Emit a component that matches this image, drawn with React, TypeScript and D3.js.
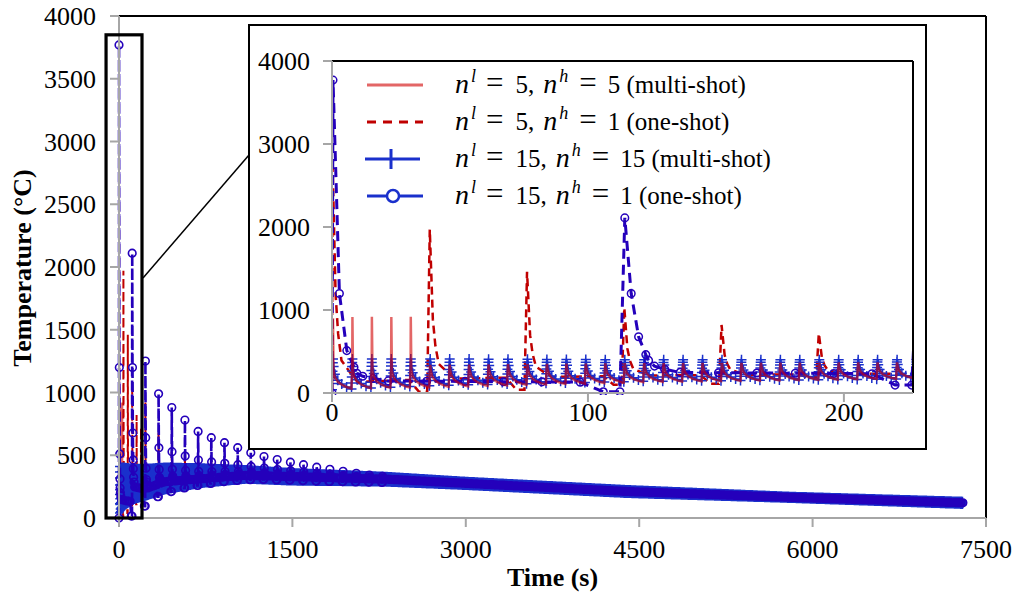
import React from "react";
import * as d3 from "d3";

// ---------------- data ----------------
const SHOT_PERIOD = 7.6; // s between heat shots
const END_TIME = 7300; // s, last sample

const mainXTicks = [0, 1500, 3000, 4500, 6000, 7500];
const mainYTicks = [0, 500, 1000, 1500, 2000, 2500, 3000, 3500, 4000];
const insetXTicks = [0, 100, 200];
const insetYTicks = [0, 1000, 2000, 3000, 4000];

// shape of one multi-shot cycle (phase within period -> fraction of swing)
const sawPhase = [0, 0.008, 0.016, 0.024, 0.032, 0.04, 0.05, 0.08, 0.15, 0.3, 0.5, 0.75];
const sawShape = [0, 0.2, 0.4, 0.6, 0.75, 0.88, 1, 0.75, 0.5, 0.3, 0.17, 0.07];
const SAW_PEAK_INDEX = 6;

// n^l = 5, n^h = 5 (multi-shot)
const aEnvTime = [0, 40, 120, 230, 400, 700, 1100, 1500, 2300, 3000, 4400, 5800, 7300];
const aLow = [50, 70, 130, 175, 225, 275, 305, 295, 285, 258, 195, 155, 108];
const aHigh = [330, 340, 360, 370, 380, 375, 365, 350, 330, 292, 226, 174, 134];
const aSpikePeaks = [900, 915, 920, 915, 920];

// n^l = 15, n^h = 15 (multi-shot)
const cEnvTime = [0, 40, 120, 230, 400, 700, 1100, 1500, 2300, 3000, 4400, 5800, 7300];
const cLow = [40, 90, 140, 170, 220, 270, 305, 290, 282, 255, 191, 152, 104];
const cHigh = [410, 410, 400, 400, 410, 405, 390, 366, 337, 297, 231, 178, 138];

// n^l = 5, n^h = 1 (one-shot)
const bSpikeTimes = [0, 38, 76, 114, 152, 190, 228, 342, 456, 570, 684, 798, 912, 1026, 1140];
const bSpikePeaks = [2800, 1970, 1460, 1030, 820, 720, 920, 680, 545, 520, 490, 460, 440, 420, 400];
const bDips = [0, 15, 40, 100, 110, 190, 200, 240, 260, 280, 290, 300, 305, 310, 312];
const bLevelTime = [0, 40, 120, 230, 700, 1100, 1500, 2300, 3000, 4400, 5800, 7300];
const bLevel = [120, 170, 210, 235, 300, 330, 330, 310, 276, 211, 165, 121];
const bDecayOffset = [0.2, 1.4, 2.4, 3.7, 6.7, 10];
const bDecayFrac = [1, 0.4, 0.22, 0.1, 0.05, 0];

// n^l = 15, n^h = 1 (one-shot)
const dSpikeTimes = [0, 114, 228, 342, 456, 570, 684, 798, 912, 1026, 1140, 1254, 1368, 1482, 1596, 1710, 1824, 1938, 2052, 2166, 2280];
const dSpikePeaks = [3770, 2110, 1250, 990, 880, 780, 690, 640, 600, 560, 520, 490, 465, 445, 425, 405, 388, 372, 356, 343, 332];
const dDips = [0, 15, 95, 170, 210, 240, 260, 275, 290, 300, 305, 308, 305, 302, 298, 295, 292, 290, 288, 286, 284];
const dLevelTime = [0, 100, 125, 220, 400, 1100, 1500, 2300, 3000, 4400, 5800, 7300];
const dLevel = [150, 130, 250, 230, 290, 340, 330, 310, 276, 211, 165, 121];
const dDecayOffset = [0.4, 2.9, 5.8, 8.6, 9.7, 12, 16, 22];
const dDecayFracFirst = [1, 0.29, 0.1, 0.045, 0.025, 0.015, 0.008, 0];
const dDecayFracSecond = [1, 0.52, 0.24, 0.12, 0.08, 0.04, 0.02, 0];
const dDecayFrac = [1, 0.4, 0.16, 0.07, 0.05, 0.03, 0.015, 0];

const legendNl = [5, 5, 15, 15];
const legendNh = [5, 1, 15, 1];
const legendMode = ["multi-shot", "one-shot", "multi-shot", "one-shot"];

// ---------------- series construction ----------------
type Pt = [number, number];
const interp = (ts: number[], vs: number[]) =>
  d3.scaleLinear<number>().domain(ts).range(vs).clamp(true);

function multiShot(envT: number[], low: number[], high: number[], spikes: number[]): Pt[] {
  const lo = interp(envT, low);
  const hi = interp(envT, high);
  const pts: Pt[] = [];
  for (let k = 0; k * SHOT_PERIOD <= END_TIME; k++) {
    for (let j = 0; j < sawPhase.length; j++) {
      const t = k * SHOT_PERIOD + sawPhase[j] * SHOT_PERIOD;
      if (t > END_TIME) break;
      let v = lo(t) + (hi(t) - lo(t)) * sawShape[j];
      if (j === SAW_PEAK_INDEX && k < spikes.length) v = spikes[k];
      pts.push([t, v]);
    }
  }
  return pts;
}

function oneShot(
  times: number[], peaks: number[], dips: number[], lvT: number[], lvV: number[],
  decOff: number[], fracFor: (i: number) => number[], dipLead: number, dipTail: number, step: number
): Pt[] {
  const lv = interp(lvT, lvV);
  const pts: Pt[] = [];
  for (let i = 0; i < times.length; i++) {
    const T = times[i];
    if (i === 0) pts.push([T, dips[0]]);
    else {
      pts.push([T - dipLead, dips[i]]);
      pts.push([T - dipTail, dips[i]]);
    }
    const fr = fracFor(i);
    for (let j = 0; j < decOff.length; j++) {
      const t = T + decOff[j];
      pts.push([t, lv(t) + (peaks[i] - lv(t)) * fr[j]]);
    }
    const stop = i + 1 < times.length ? times[i + 1] - dipLead : END_TIME;
    for (let t = T + decOff[decOff.length - 1] + step; t < stop - step * 0.4; t += step) {
      pts.push([t, lv(t)]);
    }
  }
  pts.push([END_TIME, lv(END_TIME)]);
  return pts;
}

const seriesA = multiShot(aEnvTime, aLow, aHigh, aSpikePeaks);
const seriesC = multiShot(cEnvTime, cLow, cHigh, []);
const seriesB = oneShot(bSpikeTimes, bSpikePeaks, bDips, bLevelTime, bLevel, bDecayOffset, () => bDecayFrac, 4, 0.8, 4);
const seriesD = oneShot(
  dSpikeTimes, dSpikePeaks, dDips, dLevelTime, dLevel, dDecayOffset,
  (i) => (i === 0 ? dDecayFracFirst : i === 1 ? dDecayFracSecond : dDecayFrac), 8, 1.5, 15
);

// ---------------- styling ----------------
const COL_A = "#d00000";
const OP_A = 0.6;
const COL_B = "#c00000";
const COL_C = "#1a30cc";
const COL_D = "#2400bb";
const FONT = "'Liberation Serif', 'Times New Roman', serif";

function plusPath(pts: Pt[], x: (v: number) => number, y: (v: number) => number, h: number) {
  let s = "";
  for (const [t, v] of pts) {
    const px = x(t), py = y(v);
    s += `M${(px - h).toFixed(1)},${py.toFixed(1)}h${2 * h}M${px.toFixed(1)},${(py - h).toFixed(1)}v${2 * h}`;
  }
  return s;
}
function circlePath(pts: Pt[], x: (v: number) => number, y: (v: number) => number, r: number) {
  let s = "";
  for (const [t, v] of pts) {
    const px = x(t), py = y(v);
    s += `M${(px + r).toFixed(1)},${py.toFixed(1)}a${r},${r} 0 1,0 ${-2 * r},0a${r},${r} 0 1,0 ${2 * r},0`;
  }
  return s;
}

export default function App() {
  const W = 1019, H = 597;
  const M = { left: 119, right: 986, top: 16, bottom: 518 };
  const I = { left: 332, right: 913, top: 61, bottom: 393 };
  const BOX = { x: 249, y: 25, w: 677, h: 424 };

  const xM = d3.scaleLinear().domain([0, 7500]).range([M.left, M.right]);
  const yM = d3.scaleLinear().domain([0, 4000]).range([M.bottom, M.top]);
  const xI = d3.scaleLinear().domain([0, 227]).range([I.left, I.right]);
  const yI = d3.scaleLinear().domain([0, 4000]).range([I.bottom, I.top]);

  const lineM = d3.line<Pt>().x((d) => xM(d[0])).y((d) => yM(d[1]));
  const lineI = d3.line<Pt>().x((d) => xI(d[0])).y((d) => yI(d[1]));
  const inI = (p: Pt[]) => p.filter((d) => d[0] <= 240);

  const axisGray = "#a6a6a6";

  // zoom rectangle in main data coordinates
  const zoomT0 = -112, zoomT1 = 199, zoomV1 = 3850;

  const legendY = [85, 122, 159, 196];

  return (
    <svg width={W} height={H} style={{ position: "absolute", left: 0, top: 0, background: "#fff" }} fontFamily={FONT}>
      <defs>
        <clipPath id="insetClip">
          <rect x={I.left} y={I.top - 2} width={I.right - I.left} height={I.bottom - I.top + 4} />
        </clipPath>
      </defs>
      <rect x={0} y={0} width={W} height={H} fill="#fff" />

      {/* ---------- main chart ---------- */}
      <path d={lineM(seriesA) || ""} fill="none" stroke={COL_A} strokeOpacity={OP_A} strokeWidth={1.5} />
      <path d={lineM(seriesB) || ""} fill="none" stroke={COL_B} strokeWidth={2} strokeDasharray="8,5" />
      <path d={lineM(seriesC) || ""} fill="none" stroke={COL_C} strokeWidth={1.5} />
      <path d={plusPath(seriesC, xM, yM, 4)} fill="none" stroke={COL_C} strokeWidth={1.5} />
      <path d={lineM(seriesD) || ""} fill="none" stroke={COL_D} strokeWidth={2.6} strokeDasharray="10,4" />
      <path d={circlePath(seriesD, xM, yM, 3.8)} fill="none" stroke={COL_D} strokeWidth={1.6} />

      {/* main frame */}
      <line x1={M.left} x2={M.right} y1={M.top} y2={M.top} stroke="#000" strokeWidth={2} />
      <line x1={M.right} x2={M.right} y1={M.top} y2={M.bottom} stroke="#000" strokeWidth={2} />
      <line x1={M.left} x2={M.left} y1={M.top} y2={M.bottom} stroke={axisGray} strokeWidth={2} />
      <line x1={M.left} x2={M.right} y1={M.bottom} y2={M.bottom} stroke={axisGray} strokeWidth={2} />
      {mainYTicks.map((v) => (
        <g key={"my" + v}>
          <line x1={M.left - 9} x2={M.left} y1={yM(v)} y2={yM(v)} stroke={axisGray} strokeWidth={2} />
          <text x={96} y={yM(v) + 9} fontSize={26} textAnchor="end">{v}</text>
        </g>
      ))}
      {mainXTicks.map((v) => (
        <g key={"mx" + v}>
          <line x1={xM(v)} x2={xM(v)} y1={M.bottom} y2={M.bottom + 9} stroke={axisGray} strokeWidth={2} />
          <text x={xM(v)} y={558} fontSize={26} textAnchor="middle">{v}</text>
        </g>
      ))}
      <text x={(M.left + M.right) / 2} y={586} fontSize={26} fontWeight="bold" textAnchor="middle">Time (s)</text>
      <text transform={`translate(31,${268}) rotate(-90)`} fontSize={26} fontWeight="bold" textAnchor="middle">Temperature (°C)</text>

      {/* zoom box & connector */}
      <rect x={xM(zoomT0)} y={yM(zoomV1)} width={xM(zoomT1) - xM(zoomT0)} height={yM(0) - yM(zoomV1)} fill="none" stroke="#000" strokeWidth={3.2} />
      <line x1={xM(zoomT1) + 1} y1={278} x2={BOX.x} y2={155} stroke="#000" strokeWidth={1.5} />

      {/* ---------- inset ---------- */}
      <rect x={BOX.x} y={BOX.y} width={BOX.w} height={BOX.h} fill="#fff" stroke="#000" strokeWidth={2} />
      <g clipPath="url(#insetClip)">
        <path d={lineI(inI(seriesB)) || ""} fill="none" stroke={COL_B} strokeWidth={2.5} strokeDasharray="8,5" />
        <path d={lineI(inI(seriesC)) || ""} fill="none" stroke={COL_C} strokeWidth={1.8} />
        <path d={plusPath(inI(seriesC), xI, yI, 5)} fill="none" stroke={COL_C} strokeWidth={1.5} />
        <path d={lineI(inI(seriesD)) || ""} fill="none" stroke={COL_D} strokeWidth={3} strokeDasharray="10,6" />
        <path d={circlePath(inI(seriesD), xI, yI, 3.8)} fill="none" stroke={COL_D} strokeWidth={1.5} />
        <path d={lineI(inI(seriesA)) || ""} fill="none" stroke={COL_A} strokeOpacity={OP_A} strokeWidth={2.5} />
      </g>
      <line x1={I.left} x2={I.right} y1={I.top} y2={I.top} stroke="#000" strokeWidth={2} />
      <line x1={I.right} x2={I.right} y1={I.top} y2={I.bottom} stroke="#000" strokeWidth={2} />
      <line x1={I.left} x2={I.left} y1={I.top} y2={I.bottom} stroke={axisGray} strokeWidth={2} />
      <line x1={I.left} x2={I.right} y1={I.bottom} y2={I.bottom} stroke={axisGray} strokeWidth={2} />
      {insetYTicks.map((v) => (
        <g key={"iy" + v}>
          <line x1={I.left - 9} x2={I.left} y1={yI(v)} y2={yI(v)} stroke={axisGray} strokeWidth={2} />
          <text x={310} y={yI(v) + 9} fontSize={26} textAnchor="end">{v}</text>
        </g>
      ))}
      {insetXTicks.map((v) => (
        <g key={"ix" + v}>
          <line x1={xI(v)} x2={xI(v)} y1={I.bottom} y2={I.bottom + 9} stroke={axisGray} strokeWidth={2} />
          <text x={xI(v)} y={421} fontSize={26} textAnchor="middle">{v}</text>
        </g>
      ))}

      {/* legend */}
      {legendY.map((ly, i) => (
        <g key={"lg" + i}>
          {i === 0 && <line x1={367} x2={423} y1={ly} y2={ly} stroke={COL_A} strokeOpacity={OP_A} strokeWidth={3} />}
          {i === 1 && <line x1={367} x2={423} y1={ly} y2={ly} stroke={COL_B} strokeWidth={3} strokeDasharray="9,7" />}
          {i === 2 && (
            <g>
              <line x1={365} x2={420} y1={ly} y2={ly} stroke={COL_C} strokeWidth={3} />
              <line x1={391} x2={391} y1={ly - 10} y2={ly + 10} stroke={COL_C} strokeWidth={3} />
            </g>
          )}
          {i === 3 && (
            <g>
              <line x1={367} x2={423} y1={ly} y2={ly} stroke={COL_C} strokeWidth={3} />
              <circle cx={393} cy={ly} r={6} fill="#fff" stroke={COL_C} strokeWidth={2.5} />
            </g>
          )}
          <text x={455} y={ly + 8} fontSize={25}>
            <tspan fontStyle="italic" fontSize={28}>n</tspan>
            <tspan fontStyle="italic" fontSize={18} dy={-11} dx={2}>l</tspan>
            <tspan dy={11} dx={10} fontSize={31}>=</tspan>
            <tspan dx={12}>{`${legendNl[i]},`}</tspan>
            <tspan fontStyle="italic" fontSize={28} dx={9}>n</tspan>
            <tspan fontStyle="italic" fontSize={18} dy={-11} dx={2}>h</tspan>
            <tspan dy={11} dx={11} fontSize={31}>=</tspan>
            <tspan dx={11}>{`${legendNh[i]}`}</tspan>
            <tspan>{` (${legendMode[i]})`}</tspan>
          </text>
        </g>
      ))}
    </svg>
  );
}
